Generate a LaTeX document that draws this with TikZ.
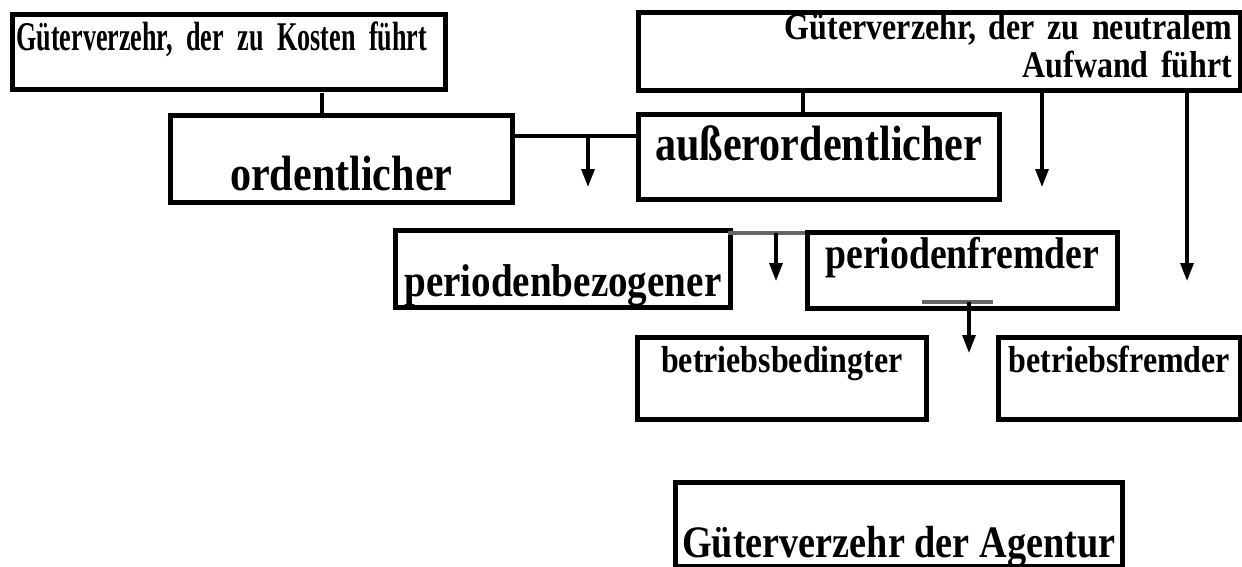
\documentclass[tikz,border=0pt]{standalone}
\usepackage{fontspec}
\setmainfont{Liberation Serif}[FakeStretch=0.85]
\newfontfamily\narrowfont{Liberation Serif}[FakeStretch=0.64]
\usetikzlibrary{arrows.meta}

\begin{document}
\begin{tikzpicture}[x=0.5pt,y=-0.5pt,
	box/.style={draw,line width=2.3pt,anchor=north west,inner sep=0pt,font=\bfseries},
	conn/.style={line width=1.6pt},
	arr/.style={line width=1.6pt,-{Triangle[length=9pt,width=6.5pt]}}]
				\useasboundingbox (0,0) rectangle (1242,567);
				\node[box,align=left,inner xsep=2pt,text width=212.5pt,text height=18pt,text depth=19.5pt,font=\narrowfont\bfseries\fontsize{20.4}{24}\selectfont] (kosten) at (10,12) {Güterverzehr, der zu Kosten führt};
				\node[box,align=right,inner xsep=4pt,text width=293pt,text height=13.5pt,text depth=25.5pt,font=\bfseries\fontsize{18.8}{19}\selectfont] (neutral) at (636,10) {Güterverzehr, der zu neutralem\\Aufwand führt};
				\node[box,minimum width=171pt,text height=37.5pt,text depth=6pt,font=\bfseries\fontsize{24.8}{28}\selectfont] (ordentlich) at (168,113) {ordentlicher};
				\node[box,minimum width=180.5pt,text height=23pt,text depth=19.5pt,font=\bfseries\fontsize{24.8}{28}\selectfont] (ausser) at (636,112) {außerordentlicher};
				\node[box,minimum width=167.5pt,text height=33pt,text depth=5.5pt,font=\bfseries\fontsize{23}{26}\selectfont] (bezogen) at (393,228) {periodenbezogener};
				\node[box,minimum width=155pt,text height=18pt,text depth=20pt,font=\bfseries\fontsize{22.2}{26}\selectfont] (fremd) at (805,230) {periodenfremder};
				\node[box,minimum width=144.5pt,text height=17.5pt,text depth=23.5pt,font=\bfseries\fontsize{18.8}{22}\selectfont] (bedingt) at (635,335) {betriebsbedingter};
				\node[box,minimum width=121pt,text height=17.5pt,text depth=23.5pt,font=\bfseries\fontsize{18.8}{22}\selectfont] (betrfremd) at (996,335) {betriebsfremder};
				\node[box,minimum width=223.5pt,text height=37.5pt,text depth=4.5pt,font=\bfseries\fontsize{22.5}{26}\selectfont] (agentur) at (673,480) {Güterverzehr der Agentur};
				\coordinate (k1) at (322,93);
				\coordinate (n1) at (803,93);
				\coordinate (n2) at (1042,93);
				\coordinate (n2e) at (1042,187);
				\coordinate (n3) at (1187,93);
				\coordinate (n3e) at (1187,281);
				\coordinate (o1) at (515,136);
				\coordinate (o2) at (588,136);
				\coordinate (o2e) at (588,187);
				\coordinate (b1) at (728,233);
				\coordinate (b2) at (776,233);
				\coordinate (b2e) at (776,281);
				\coordinate (f1) at (922,302);
				\coordinate (f2) at (993,302);
				\coordinate (f3) at (969,302);
				\coordinate (f3e) at (969,353);
				\draw[conn] (k1) -- (k1 |- ordentlich.north);
				\draw[conn] (n1) -- (n1 |- ausser.north);
				\draw[arr] (n2) -- (n2e);
				\draw[arr] (n3) -- (n3e);
				\draw[conn] (o1) -- (o1 -| ausser.west);
				\draw[arr] (o2) -- (o2e);
				\draw[conn,black!60] (b1) -- (b1 -| fremd.west);
				\draw[arr] (b2) -- (b2e);
				\draw[conn,black!60] (f1) -- (f2);
				\draw[arr] (f3) -- (f3e);
\end{tikzpicture}
\end{document}
